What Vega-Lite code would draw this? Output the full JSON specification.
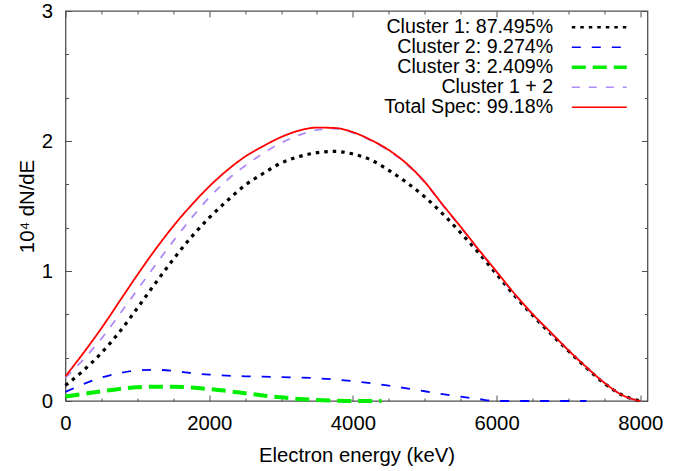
{
  "$schema": "https://vega.github.io/schema/vega-lite/v6.json",
  "width": 582,
  "height": 390,
  "autosize": {"type": "none"},
  "padding": {"left": 65.5, "top": 11, "right": 44.5, "bottom": 70},
  "background": "white",
  "data": {"values": [
    {"E":0,"v":0.12,"s":"Cluster 1: 87.495%"},{"E":250,"v":0.235,"s":"Cluster 1: 87.495%"},{"E":500,"v":0.37,"s":"Cluster 1: 87.495%"},{"E":750,"v":0.53,"s":"Cluster 1: 87.495%"},{"E":1000,"v":0.715,"s":"Cluster 1: 87.495%"},{"E":1250,"v":0.905,"s":"Cluster 1: 87.495%"},{"E":1500,"v":1.09,"s":"Cluster 1: 87.495%"},{"E":1750,"v":1.26,"s":"Cluster 1: 87.495%"},{"E":2000,"v":1.41,"s":"Cluster 1: 87.495%"},{"E":2250,"v":1.54,"s":"Cluster 1: 87.495%"},{"E":2500,"v":1.66,"s":"Cluster 1: 87.495%"},{"E":2750,"v":1.75,"s":"Cluster 1: 87.495%"},{"E":3000,"v":1.83,"s":"Cluster 1: 87.495%"},{"E":3250,"v":1.88,"s":"Cluster 1: 87.495%"},{"E":3500,"v":1.91,"s":"Cluster 1: 87.495%"},{"E":3750,"v":1.92,"s":"Cluster 1: 87.495%"},{"E":4000,"v":1.9,"s":"Cluster 1: 87.495%"},{"E":4250,"v":1.855,"s":"Cluster 1: 87.495%"},{"E":4500,"v":1.774,"s":"Cluster 1: 87.495%"},{"E":4750,"v":1.68,"s":"Cluster 1: 87.495%"},{"E":5000,"v":1.57,"s":"Cluster 1: 87.495%"},{"E":5250,"v":1.44,"s":"Cluster 1: 87.495%"},{"E":5500,"v":1.294,"s":"Cluster 1: 87.495%"},{"E":5750,"v":1.14,"s":"Cluster 1: 87.495%"},{"E":6000,"v":0.975,"s":"Cluster 1: 87.495%"},{"E":6250,"v":0.81,"s":"Cluster 1: 87.495%"},{"E":6500,"v":0.66,"s":"Cluster 1: 87.495%"},{"E":6750,"v":0.52,"s":"Cluster 1: 87.495%"},{"E":7000,"v":0.385,"s":"Cluster 1: 87.495%"},{"E":7250,"v":0.255,"s":"Cluster 1: 87.495%"},{"E":7500,"v":0.135,"s":"Cluster 1: 87.495%"},{"E":7750,"v":0.045,"s":"Cluster 1: 87.495%"},{"E":8000,"v":0.0,"s":"Cluster 1: 87.495%"},

    {"E":0,"v":0.07,"s":"Cluster 2: 9.274%"},{"E":250,"v":0.13,"s":"Cluster 2: 9.274%"},{"E":500,"v":0.18,"s":"Cluster 2: 9.274%"},{"E":750,"v":0.215,"s":"Cluster 2: 9.274%"},{"E":1000,"v":0.235,"s":"Cluster 2: 9.274%"},{"E":1250,"v":0.24,"s":"Cluster 2: 9.274%"},{"E":1500,"v":0.232,"s":"Cluster 2: 9.274%"},{"E":1750,"v":0.215,"s":"Cluster 2: 9.274%"},{"E":2000,"v":0.203,"s":"Cluster 2: 9.274%"},{"E":2250,"v":0.195,"s":"Cluster 2: 9.274%"},{"E":2500,"v":0.19,"s":"Cluster 2: 9.274%"},{"E":2750,"v":0.187,"s":"Cluster 2: 9.274%"},{"E":3000,"v":0.184,"s":"Cluster 2: 9.274%"},{"E":3250,"v":0.18,"s":"Cluster 2: 9.274%"},{"E":3500,"v":0.175,"s":"Cluster 2: 9.274%"},{"E":3750,"v":0.165,"s":"Cluster 2: 9.274%"},{"E":4000,"v":0.153,"s":"Cluster 2: 9.274%"},{"E":4250,"v":0.137,"s":"Cluster 2: 9.274%"},{"E":4500,"v":0.118,"s":"Cluster 2: 9.274%"},{"E":4750,"v":0.097,"s":"Cluster 2: 9.274%"},{"E":5000,"v":0.075,"s":"Cluster 2: 9.274%"},{"E":5250,"v":0.053,"s":"Cluster 2: 9.274%"},{"E":5500,"v":0.033,"s":"Cluster 2: 9.274%"},{"E":5750,"v":0.015,"s":"Cluster 2: 9.274%"},{"E":6000,"v":0.0,"s":"Cluster 2: 9.274%"},{"E":6250,"v":0.0,"s":"Cluster 2: 9.274%"},{"E":6500,"v":0.0,"s":"Cluster 2: 9.274%"},{"E":6750,"v":0.0,"s":"Cluster 2: 9.274%"},{"E":7000,"v":0.0,"s":"Cluster 2: 9.274%"},{"E":7250,"v":0.0,"s":"Cluster 2: 9.274%"},

    {"E":0,"v":0.035,"s":"Cluster 3: 2.409%"},{"E":250,"v":0.055,"s":"Cluster 3: 2.409%"},{"E":500,"v":0.075,"s":"Cluster 3: 2.409%"},{"E":750,"v":0.093,"s":"Cluster 3: 2.409%"},{"E":1000,"v":0.105,"s":"Cluster 3: 2.409%"},{"E":1250,"v":0.11,"s":"Cluster 3: 2.409%"},{"E":1500,"v":0.11,"s":"Cluster 3: 2.409%"},{"E":1750,"v":0.103,"s":"Cluster 3: 2.409%"},{"E":2000,"v":0.092,"s":"Cluster 3: 2.409%"},{"E":2250,"v":0.077,"s":"Cluster 3: 2.409%"},{"E":2500,"v":0.06,"s":"Cluster 3: 2.409%"},{"E":2750,"v":0.043,"s":"Cluster 3: 2.409%"},{"E":3000,"v":0.028,"s":"Cluster 3: 2.409%"},{"E":3250,"v":0.016,"s":"Cluster 3: 2.409%"},{"E":3500,"v":0.008,"s":"Cluster 3: 2.409%"},{"E":3750,"v":0.003,"s":"Cluster 3: 2.409%"},{"E":4000,"v":0.0,"s":"Cluster 3: 2.409%"},{"E":4250,"v":0.0,"s":"Cluster 3: 2.409%"},{"E":4400,"v":0.0,"s":"Cluster 3: 2.409%"},

    {"E":0,"v":0.18,"s":"Cluster 1 + 2"},{"E":250,"v":0.32,"s":"Cluster 1 + 2"},{"E":500,"v":0.48,"s":"Cluster 1 + 2"},{"E":750,"v":0.665,"s":"Cluster 1 + 2"},{"E":1000,"v":0.855,"s":"Cluster 1 + 2"},{"E":1250,"v":1.045,"s":"Cluster 1 + 2"},{"E":1500,"v":1.23,"s":"Cluster 1 + 2"},{"E":1750,"v":1.405,"s":"Cluster 1 + 2"},{"E":2000,"v":1.565,"s":"Cluster 1 + 2"},{"E":2250,"v":1.7,"s":"Cluster 1 + 2"},{"E":2500,"v":1.81,"s":"Cluster 1 + 2"},{"E":2750,"v":1.905,"s":"Cluster 1 + 2"},{"E":3000,"v":1.985,"s":"Cluster 1 + 2"},{"E":3250,"v":2.045,"s":"Cluster 1 + 2"},{"E":3500,"v":2.085,"s":"Cluster 1 + 2"},{"E":3750,"v":2.095,"s":"Cluster 1 + 2"},{"E":4000,"v":2.063,"s":"Cluster 1 + 2"},{"E":4250,"v":2.003,"s":"Cluster 1 + 2"},{"E":4500,"v":1.925,"s":"Cluster 1 + 2"},{"E":4750,"v":1.82,"s":"Cluster 1 + 2"},{"E":5000,"v":1.68,"s":"Cluster 1 + 2"},{"E":5250,"v":1.505,"s":"Cluster 1 + 2"},{"E":5500,"v":1.335,"s":"Cluster 1 + 2"},{"E":5750,"v":1.16,"s":"Cluster 1 + 2"},{"E":6000,"v":0.99,"s":"Cluster 1 + 2"},{"E":6250,"v":0.82,"s":"Cluster 1 + 2"},{"E":6500,"v":0.665,"s":"Cluster 1 + 2"},{"E":6750,"v":0.525,"s":"Cluster 1 + 2"},{"E":7000,"v":0.39,"s":"Cluster 1 + 2"},{"E":7250,"v":0.26,"s":"Cluster 1 + 2"},{"E":7500,"v":0.14,"s":"Cluster 1 + 2"},{"E":7750,"v":0.045,"s":"Cluster 1 + 2"},{"E":8000,"v":0.0,"s":"Cluster 1 + 2"},

    {"E":0,"v":0.19,"s":"Total Spec: 99.18%"},{"E":250,"v":0.37,"s":"Total Spec: 99.18%"},{"E":500,"v":0.56,"s":"Total Spec: 99.18%"},{"E":750,"v":0.765,"s":"Total Spec: 99.18%"},{"E":1000,"v":0.97,"s":"Total Spec: 99.18%"},{"E":1250,"v":1.165,"s":"Total Spec: 99.18%"},{"E":1500,"v":1.345,"s":"Total Spec: 99.18%"},{"E":1750,"v":1.505,"s":"Total Spec: 99.18%"},{"E":2000,"v":1.65,"s":"Total Spec: 99.18%"},{"E":2250,"v":1.775,"s":"Total Spec: 99.18%"},{"E":2500,"v":1.88,"s":"Total Spec: 99.18%"},{"E":2750,"v":1.96,"s":"Total Spec: 99.18%"},{"E":3000,"v":2.03,"s":"Total Spec: 99.18%"},{"E":3250,"v":2.08,"s":"Total Spec: 99.18%"},{"E":3500,"v":2.103,"s":"Total Spec: 99.18%"},{"E":3750,"v":2.1,"s":"Total Spec: 99.18%"},{"E":4000,"v":2.068,"s":"Total Spec: 99.18%"},{"E":4250,"v":2.008,"s":"Total Spec: 99.18%"},{"E":4500,"v":1.93,"s":"Total Spec: 99.18%"},{"E":4750,"v":1.825,"s":"Total Spec: 99.18%"},{"E":5000,"v":1.685,"s":"Total Spec: 99.18%"},{"E":5250,"v":1.51,"s":"Total Spec: 99.18%"},{"E":5500,"v":1.34,"s":"Total Spec: 99.18%"},{"E":5750,"v":1.165,"s":"Total Spec: 99.18%"},{"E":6000,"v":0.995,"s":"Total Spec: 99.18%"},{"E":6250,"v":0.825,"s":"Total Spec: 99.18%"},{"E":6500,"v":0.67,"s":"Total Spec: 99.18%"},{"E":6750,"v":0.53,"s":"Total Spec: 99.18%"},{"E":7000,"v":0.39,"s":"Total Spec: 99.18%"},{"E":7250,"v":0.26,"s":"Total Spec: 99.18%"},{"E":7500,"v":0.14,"s":"Total Spec: 99.18%"},{"E":7750,"v":0.045,"s":"Total Spec: 99.18%"},{"E":8000,"v":0.0,"s":"Total Spec: 99.18%"}
  ]},
  "layer": [
    {
      "transform": [{"filter": "datum.s == 'Cluster 1: 87.495%'"}],
      "mark": {"type": "line", "strokeWidth": 3.2, "interpolate": "monotone", "strokeCap": "butt"},
      "encoding": {
        "x": {"field": "E", "type": "quantitative", "scale": {"domain": [0, 8100], "nice": false, "zero": false},
          "axis": {"orient": "bottom", "values": [0,500,1000,1500,2000,2500,3000,3500,4000,4500,5000,5500,6000,6500,7000,7500,8000],
            "format": "d", "labelExpr": "datum.value % 2000 == 0 ? datum.label : ''",
            "tickSize": {"condition": {"test": "datum.value % 2000 == 0", "value": -6}, "value": -3},
            "labelPadding": 18.5, "labelFlush": false, "labelOverlap": false, "title": "Electron energy (keV)", "titlePadding": 9,
            "titleFont": "Liberation Sans", "titleFontSize": 20.3, "titleFontWeight": "normal"}},
        "y": {"field": "v", "type": "quantitative", "scale": {"domain": [0, 3], "nice": false},
          "axis": {"orient": "left", "values": [0,0.3333333,0.6666667,1,1.3333333,1.6666667,2,2.3333333,2.6666667,3],
            "labelExpr": "abs(datum.value - round(datum.value)) < 0.01 ? format(datum.value, 'd') : ''",
            "tickSize": {"condition": {"test": "abs(datum.value - round(datum.value)) < 0.01", "value": -6}, "value": -3},
            "labelPadding": 19, "labelFlush": false, "labelOverlap": false, "title": "10⁴ dN/dE", "titlePadding": 4,
            "titleFont": "Liberation Sans", "titleFontSize": 20.3, "titleFontWeight": "normal"}},
        "color": {"field": "s", "type": "nominal",
          "scale": {"domain": ["Cluster 1: 87.495%", "Cluster 2: 9.274%", "Cluster 3: 2.409%", "Cluster 1 + 2", "Total Spec: 99.18%"],
            "range": ["#000000", "#0000ff", "#00ee00", "#b08af5", "#ff0000"]},
          "legend": {"title": null, "symbolType": "M-5,0H5", "symbolSize": 121,
            "encode": {"symbols": {"update": {"strokeWidth": {"signal": "datum.value == 'Cluster 3: 2.409%' ? 3.5 : (datum.value == 'Cluster 1: 87.495%' ? 2.5 : 1.6)"}}}}}},
        "strokeDash": {"field": "s", "type": "nominal",
          "scale": {"domain": ["Cluster 1: 87.495%", "Cluster 2: 9.274%", "Cluster 3: 2.409%", "Cluster 1 + 2", "Total Spec: 99.18%"],
            "range": [[3.5, 5], [9, 11], [14, 7], [8, 9], [1, 0]]},
          "legend": {"title": null, "symbolType": "M-5,0H5", "symbolSize": 121}}
      }
    },
    {
      "transform": [{"filter": "datum.s == 'Cluster 3: 2.409%'"}],
      "mark": {"type": "line", "strokeWidth": 4, "interpolate": "monotone", "strokeCap": "butt"},
      "encoding": {
        "x": {"field": "E", "type": "quantitative",
          "axis": {"orient": "top", "values": [0,500,1000,1500,2000,2500,3000,3500,4000,4500,5000,5500,6000,6500,7000,7500,8000],
            "labels": false, "title": null,
            "tickSize": {"condition": {"test": "datum.value % 2000 == 0", "value": -6}, "value": -3}}},
        "y": {"field": "v", "type": "quantitative",
          "axis": {"orient": "right", "values": [0,0.3333333,0.6666667,1,1.3333333,1.6666667,2,2.3333333,2.6666667,3],
            "labels": false, "title": null,
            "tickSize": {"condition": {"test": "abs(datum.value - round(datum.value)) < 0.01", "value": -6}, "value": -3}}},
        "color": {"field": "s", "type": "nominal", "legend": {"title": null, "symbolType": "M-5,0H5", "symbolSize": 121,
            "encode": {"symbols": {"update": {"strokeWidth": {"signal": "datum.value == 'Cluster 3: 2.409%' ? 3.5 : (datum.value == 'Cluster 1: 87.495%' ? 2.5 : 1.6)"}}}}}},
        "strokeDash": {"field": "s", "type": "nominal", "legend": {"title": null, "symbolType": "M-5,0H5", "symbolSize": 121}}
      }
    },
    {
      "transform": [{"filter": "datum.s != 'Cluster 1: 87.495%' && datum.s != 'Cluster 3: 2.409%'"}],
      "mark": {"type": "line", "strokeWidth": 1.8, "interpolate": "monotone", "strokeCap": "butt"},
      "encoding": {
        "x": {"field": "E", "type": "quantitative", "axis": null},
        "y": {"field": "v", "type": "quantitative", "axis": null},
        "color": {"field": "s", "type": "nominal", "legend": {"title": null, "symbolType": "M-5,0H5", "symbolSize": 121,
            "encode": {"symbols": {"update": {"strokeWidth": {"signal": "datum.value == 'Cluster 3: 2.409%' ? 3.5 : (datum.value == 'Cluster 1: 87.495%' ? 2.5 : 1.6)"}}}}}},
        "strokeDash": {"field": "s", "type": "nominal", "legend": {"title": null, "symbolType": "M-5,0H5", "symbolSize": 121}}
      }
    }
  ],
  "resolve": {"axis": {"x": "independent", "y": "independent"}},
  "config": {
    "view": {"stroke": "#505050", "strokeWidth": 1.3},
    "axis": {"domain": false, "grid": false, "tickColor": "#505050", "tickWidth": 1,
      "labelFont": "Liberation Sans", "labelFontSize": 20.3, "labelColor": "#000000",
      "titleFont": "Liberation Sans", "titleFontSize": 20.3, "titleFontWeight": "normal", "titleColor": "#000000"},
    "legend": {"orient": "none", "legendX": 524, "legendY": 6.5, "padding": 0, "rowPadding": -1.75,
      "symbolOffset": 0,
      "labelAlign": "right", "labelOffset": -56, "labelLimit": 400,
      "labelFont": "Liberation Sans", "labelFontSize": 19.6, "labelColor": "#000000"}
  }
}
